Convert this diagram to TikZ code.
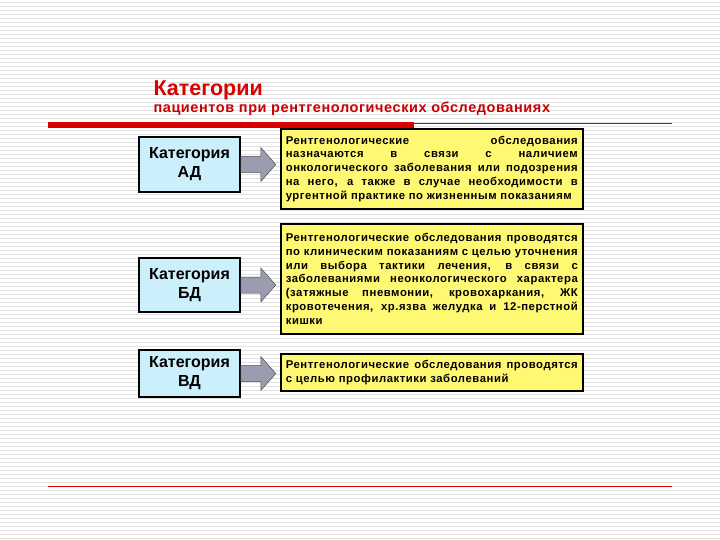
\documentclass[tikz,border=0pt]{standalone}
\usepackage{fontspec}
\setmainfont{Liberation Sans}
\newfontfamily\spaced[LetterSpace=5]{Liberation Sans}
\newfontfamily\spacedb[LetterSpace=4]{Liberation Sans}
\begin{document}
\begin{tikzpicture}[x=1pt,y=-1pt,
 cat/.style={draw=black,line width=1.5pt,fill=cyan!20,minimum width=101pt,align=center,font=\bfseries\fontsize{16}{19}\selectfont,inner sep=2pt},
 desc/.style={draw=black,line width=1.6pt,fill=yellow!55,text width=292pt,align=justify,font=\spaced\bfseries\fontsize{11.3}{13.8}\selectfont,inner xsep=5pt,inner ysep=3pt,anchor=north west},
 arr/.style={fill=gray!55!blue!25!gray!70,draw=black!70,line width=0.5pt}]
\useasboundingbox (0,0) rectangle (720,540);
\fill[white] (0,0) rectangle (720,540);
\foreach \y in {2,6,...,538} \draw[black!12,line width=0.8pt] (0,\y) -- (720,\y);
\node[anchor=west,text=red!85!black,font=\bfseries\fontsize{21.5}{24}\selectfont] (t1) at (150,90) {Категории};
\node[anchor=west,text=red!80!black,font=\spacedb\bfseries\fontsize{14.5}{16}\selectfont] (t2) at (150,109) {пациентов при рентгенологических обследованиях};
\fill[red!85!black] (48,122) rectangle (414,128);
\draw[red!85!black,line width=0.6pt] (48,123) -- (672,123);
\draw[red!85!black,line width=0.6pt] (48,486) -- (672,486);
\node[cat,minimum height=55pt] (a) at (189.5,164.5) {Категория\\АД};
\node[cat,minimum height=54pt] (b) at (189.5,285) {Категория\\БД};
\node[cat,minimum height=47pt] (c) at (189.5,373.5) {Категория\\ВД};
\node[desc,minimum height=80pt] (da) at (280,128) {Рентгенологические обследования назначаются в связи с наличием онкологического заболевания или подозрения на него, а также в случае необходимости в ургентной практике по жизненным показаниям};
\node[desc,minimum height=110pt] (db) at (280,223) {Рентгенологические обследования проводятся по клиническим показаниям с целью уточнения или выбора тактики лечения, в связи с заболеваниями неонкологического характера (затяжные пневмонии, кровохаркания, ЖК кровотечения, хр.язва желудка и 12-перстной кишки};
\node[desc,minimum height=37pt] (dc) at (280,353) {Рентгенологические обследования проводятся с целью профилактики заболеваний};
\foreach \n in {a,b,c}{
 \draw[arr] (\n.east) ++(0,-8) -- ++(20,0) -- ++(0,-9) -- ++(15,17) -- ++(-15,17) -- ++(0,-9) -- ++(-20,0) -- cycle;
}
\end{tikzpicture}
\end{document}
